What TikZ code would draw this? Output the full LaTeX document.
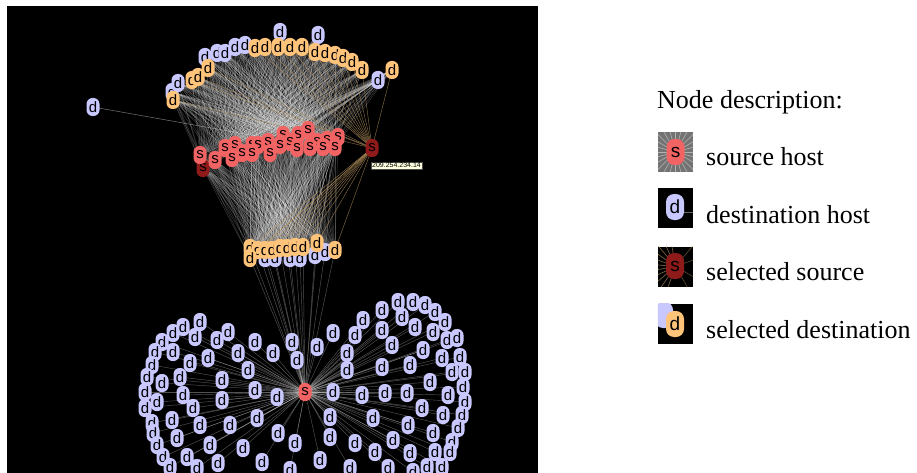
\documentclass[tikz,border=0pt]{standalone}
\usepackage{fontspec}
\setmainfont{Liberation Serif}
\newfontfamily\hostfont{Liberation Sans}
\pgfdeclarelayer{bg}
\pgfdeclarelayer{edges}
\pgfsetlayers{bg,edges,main}
\definecolor{lav}{HTML}{C8C8FF}
\definecolor{ora}{HTML}{FFC47A}
\definecolor{src}{HTML}{F26464}
\definecolor{selsrc}{HTML}{8E1A1A}
\definecolor{tanedge}{HTML}{B8945E}
\definecolor{tipbg}{HTML}{FFFFE0}
\tikzset{
  host/.style={rectangle, rounded corners=6pt, minimum width=13pt, minimum height=18pt,
    inner sep=0pt, font=\hostfont\fontsize{15}{15}\selectfont, text=black},
  dhost/.style={host, fill=lav},
  ohost/.style={host, fill=ora},
  shost/.style={host, fill=src},
  sshost/.style={host, fill=selsrc},
  bighost/.style={rectangle, rounded corners=8pt, minimum width=18pt, minimum height=26pt,
    inner sep=0pt, font=\hostfont\fontsize{19}{19}\selectfont, text=black},
  mesh/.style={white, opacity=0.22, line width=0.45pt},
  seledge/.style={tanedge, opacity=0.7, line width=0.45pt},
  heartedge/.style={white, opacity=0.32, line width=0.45pt},
  icon/.style={rectangle, minimum width=35pt, minimum height=40pt, inner sep=0pt},
  legtext/.style={anchor=base west, inner sep=0pt, font=\fontsize{26}{26}\selectfont},
}
\def\toplav{172/92, 178/83, 205/57, 217/53, 225/53, 235/47, 245/45, 280/32, 318/35, 378/80}
\def\topora{173/100, 192/80, 198/77, 208/68, 255/48, 265/47, 278/47, 290/47, 302/47, 315/52, 325/53, 335/55, 343/58, 352/62, 362/70, 392/70}
\def\srclist{308/130, 283/135, 298/135, 338/137, 327/140, 268/142, 290/142, 317/142, 235/145, 252/145, 258/145, 280/145, 310/147, 323/147, 335/147, 225/148, 297/148, 242/153, 252/153, 270/153, 200/155, 232/158, 215/160}
\def\botlav{265/258, 275/258, 290/258, 300/258, 315/255, 325/252}
\def\botora{250/248, 258/250, 265/250, 272/250, 280/248, 287/248, 295/247, 303/247, 317/243, 335/250, 250/258}
\def\heartlist{173/333, 183/327, 200/322, 195/337, 162/342, 217/340, 228/332, 173/352, 155/352, 208/358, 190/363, 238/353, 255/342, 273/353, 292/342, 297/360, 317/347, 248/370, 152/365, 180/377, 222/380, 147/377, 162/383, 255/390, 277/397, 183/395, 222/400, 145/392, 157/402, 193/408, 145/408, 172/420, 200/425, 230/425, 257/418, 278/433, 152/423, 177/438, 153/433, 157/445, 210/445, 243/448, 295/443, 320/460, 163/457, 187/457, 218/463, 262/462, 170/467, 197/468, 290/470, 398/302, 413/302, 425/305, 435/312, 382/310, 363/320, 402/317, 415/327, 433/332, 445/322, 333/333, 355/335, 382/330, 447/340, 457/338, 392/345, 347/353, 423/350, 442/358, 460/357, 347/370, 382/367, 410/365, 452/372, 465/372, 430/382, 463/387, 333/392, 362/395, 385/393, 407/393, 448/395, 465/402, 422/408, 443/415, 462/415, 330/417, 373/418, 408/425, 433/433, 458/428, 330/437, 393/440, 452/442, 355/443, 435/452, 450/452, 375/452, 410/453, 350/468, 388/468, 427/467, 442/467, 413/472}
\begin{document}
\begin{tikzpicture}[x=1pt,y=-1pt]
\useasboundingbox (0,0) rectangle (917,473);
\begin{pgfonlayer}{bg}
  \fill[white] (0,0) rectangle (917,473);
  \fill[black] (7,6) rectangle (538,473);
\end{pgfonlayer}

% ---------- top band of destinations ----------
\foreach \x/\y [count=\i] in \toplav {\node[dhost] (tl\i) at (\x,\y) {d};}
\foreach \x/\y [count=\i] in \topora {\node[ohost] (to\i) at (\x,\y) {d};}
\node[dhost] (iso) at (93,107) {d};

% ---------- sources ----------
\node[sshost] (sd1) at (203,168) {s};
\foreach \x/\y [count=\i] in \srclist {\node[shost] (s\i) at (\x,\y) {s};}
\node[sshost] (sel) at (372,148) {s};
\node[draw=black!70, line width=0.4pt, fill=tipbg, inner sep=1pt, text=black,
  font=\hostfont\fontsize{7}{7}\selectfont] (tip) at (396.5,165.5) {209.254.234.14};

% ---------- bottom band ----------
\foreach \x/\y [count=\i] in \botlav {\node[dhost] (bl\i) at (\x,\y) {d};}
\foreach \x/\y [count=\i] in \botora {\node[ohost] (bo\i) at (\x,\y) {d};}

% ---------- heart cluster ----------
\foreach \x/\y [count=\i] in \heartlist {\node[dhost] (h\i) at (\x,\y) {d};}
\node[shost] (hc) at (305,392) {s};

% ---------- edges ----------
\begin{pgfonlayer}{edges}
  \foreach \j in {1,...,23} {
    \foreach \i in {1,...,10} {\draw[mesh] (tl\i.center) -- (s\j.center);}
    \foreach \i in {1,...,16} {\draw[mesh] (to\i.center) -- (s\j.center);}
    \foreach \i in {1,...,6} {\draw[mesh] (bl\i.center) -- (s\j.center);}
    \foreach \i in {1,...,11} {\draw[mesh] (bo\i.center) -- (s\j.center);}
  }
  \foreach \i in {1,...,10} {\draw[mesh] (tl\i.center) -- (sd1.center);}
  \foreach \i in {1,...,16} {\draw[mesh] (to\i.center) -- (sd1.center);}
  \foreach \i in {1,...,6} {\draw[mesh] (bl\i.center) -- (sd1.center);}
  \foreach \i in {1,...,11} {\draw[mesh] (bo\i.center) -- (sd1.center);}
  \foreach \i in {1,...,16} {\draw[seledge] (to\i.center) -- (sel.center);}
  \foreach \i in {1,...,11} {\draw[seledge] (bo\i.center) -- (sel.center);}
  \draw[white, opacity=0.45, line width=0.5pt] (iso.center) -- (s7.center);
  \foreach \x/\y [count=\i] in \heartlist {\draw[heartedge] (hc.center) -- (h\i.center);}
  \foreach \i in {1,...,6} {\draw[heartedge] (hc.center) -- (bl\i.center);}
  \foreach \i in {1,...,11} {\draw[heartedge] (hc.center) -- (bo\i.center);}
\end{pgfonlayer}

% ---------- legend ----------
\node[legtext] (legtitle) at (657,109) {Node description:};

\node[icon, fill=black!55] (ic1) at (675.5,152) {};
\begin{scope}
  \clip (ic1.south west) rectangle (ic1.north east);
  \foreach \a in {0,15,...,345} {\draw[white, opacity=0.45, line width=0.6pt] (ic1.center) -- ++(\a:30pt);}
\end{scope}
\node[bighost, fill=src] (ic1h) at (ic1.center) {s};
\node[legtext] (leg1) at (706,166) {source host};

\node[icon, fill=black] (ic2) at (675.5,208) {};
\draw[white, opacity=0.4, line width=0.8pt] (ic2.center) ++(0,4) -- (ic2.east |- 0,212);
\node[bighost, fill=lav] (ic2h) at (675,207) {d};
\node[legtext] (leg2) at (706,223) {destination host};

\node[icon, fill=black] (ic3) at (675.5,266.5) {};
\begin{scope}
  \clip (ic3.south west) rectangle (ic3.north east);
  \foreach \a in {100,115,...,260} {\draw[tanedge, opacity=0.7, line width=0.6pt] (ic3.center) -- ++(\a:30pt);}
  \foreach \a in {-60,-30,20,50} {\draw[tanedge, opacity=0.5, line width=0.6pt] (ic3.center) -- ++(\a:30pt);}
\end{scope}
\node[bighost, fill=selsrc] (ic3h) at (675,266) {s};
\node[legtext] (leg3) at (706,280) {selected source};

\node[icon, fill=black] (ic4) at (675.5,323.5) {};
\begin{scope}
  \clip (ic4.south west) rectangle (ic4.north east);
  \node[bighost, fill=lav] (ic4b) at (664,315) {};
\end{scope}
\node[bighost, fill=ora] (ic4h) at (675,324) {d};
\node[legtext] (leg4) at (706,338) {selected destination};
\end{tikzpicture}
\end{document}
